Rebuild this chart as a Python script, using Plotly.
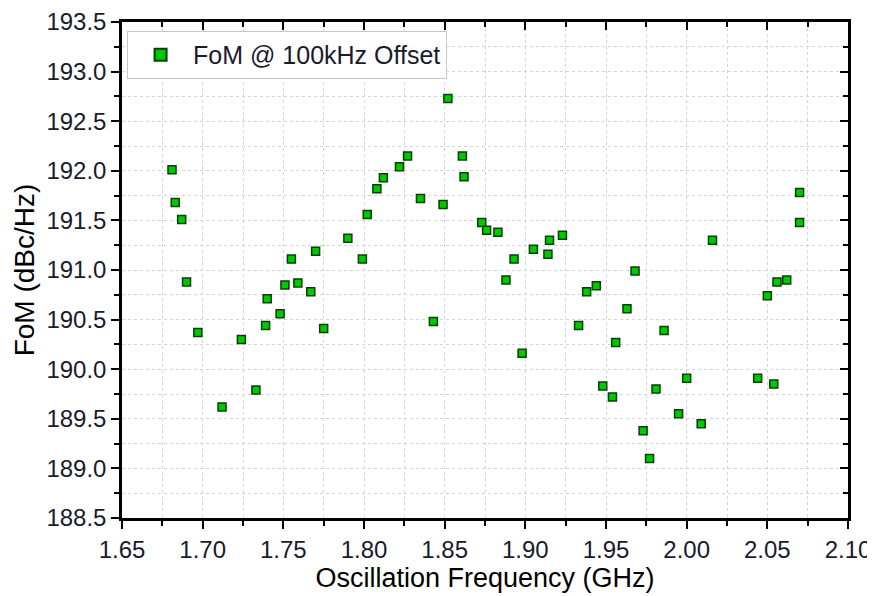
import plotly.graph_objects as go

freq_ghz = [1.681, 1.683, 1.687, 1.690, 1.697, 1.712, 1.724, 1.733, 1.739, 1.740,
            1.748, 1.751, 1.755, 1.759, 1.767, 1.770, 1.775, 1.790, 1.799, 1.802,
            1.808, 1.812, 1.822, 1.827, 1.835, 1.843, 1.849, 1.852, 1.861, 1.862,
            1.873, 1.876, 1.883, 1.888, 1.893, 1.898, 1.905, 1.914, 1.915, 1.923,
            1.933, 1.938, 1.944, 1.948, 1.954, 1.956, 1.963, 1.968, 1.973, 1.977,
            1.981, 1.986, 1.995, 2.000, 2.009, 2.016, 2.044, 2.050, 2.054, 2.056,
            2.062, 2.070, 2.070]
fom_dbc = [192.01, 191.68, 191.51, 190.88, 190.37, 189.62, 190.30, 189.79, 190.44, 190.71,
           190.56, 190.85, 191.11, 190.87, 190.78, 191.19, 190.41, 191.32, 191.11, 191.56,
           191.82, 191.93, 192.04, 192.15, 191.72, 190.48, 191.66, 192.73, 192.15, 191.94,
           191.48, 191.40, 191.38, 190.90, 191.11, 190.16, 191.21, 191.16, 191.30, 191.35,
           190.44, 190.78, 190.84, 189.83, 189.72, 190.27, 190.61, 190.99, 189.38, 189.10,
           189.80, 190.39, 189.55, 189.91, 189.45, 191.30, 189.91, 190.74, 189.85, 190.88,
           190.90, 191.78, 191.48]

x_ticks = [1.65, 1.70, 1.75, 1.80, 1.85, 1.90, 1.95, 2.00, 2.05, 2.10]
y_ticks = [188.5, 189.0, 189.5, 190.0, 190.5, 191.0, 191.5, 192.0, 192.5, 193.0, 193.5]
series_name = "FoM @ 100kHz Offset"

FONT = "Liberation Sans, Arial, sans-serif"
TXT = "#1a1a2e"

fig = go.Figure()
fig.add_trace(go.Scatter(
    x=freq_ghz, y=fom_dbc, mode="markers", name=series_name,
    marker=dict(symbol="square", size=8, color="#00c800",
                line=dict(color="#064006", width=1.5)),
))
# helper trace for inside ticks on top / right axes
fig.add_trace(go.Scatter(
    x=freq_ghz[:1], y=fom_dbc[:1], xaxis="x2", yaxis="y2", mode="markers",
    marker=dict(opacity=0), showlegend=False, hoverinfo="skip",
))

grid = dict(showgrid=True, gridcolor="#d4d4d4", griddash="dot", gridwidth=1)

# page body has an 8px margin, so the figure is sized/offset accordingly
fig.update_layout(
    width=867, height=588,
    margin=dict(l=114, r=27, t=14, b=78, autoexpand=False),
    paper_bgcolor="white", plot_bgcolor="white",
    font=dict(family=FONT, color=TXT, size=20),
    showlegend=True,
    legend=dict(x=0.007, y=0.982, xanchor="left", yanchor="top",
                bgcolor="white", bordercolor="#c8c8c8", borderwidth=1,
                font=dict(size=25, family=FONT, color=TXT),
                itemsizing="constant", itemwidth=55),
    xaxis=dict(
        range=[1.65, 2.10], tickvals=x_ticks, ticktext=[f"{v:.2f}" for v in x_ticks],
        ticks="outside", ticklen=8, tickwidth=2, tickcolor="black",
        showline=True, linecolor="black", linewidth=2.5, mirror=True,
        zeroline=False, automargin=False,
        tickfont=dict(size=24, family=FONT, color=TXT),
        title=dict(text="Oscillation Frequency (GHz)", standoff=0,
                   font=dict(size=27, family=FONT, color="black")),
        minor=dict(dtick=0.025, ticks="outside", ticklen=5, tickwidth=2,
                   tickcolor="black", showgrid=True, gridcolor="#d4d4d4", griddash="dot"),
        **grid,
    ),
    yaxis=dict(
        range=[188.5, 193.5], tickvals=y_ticks, ticktext=[f"{v:.1f}" for v in y_ticks],
        ticks="outside", ticklen=8, tickwidth=2, tickcolor="black",
        showline=True, linecolor="black", linewidth=2.5, mirror=True,
        zeroline=False, automargin=False,
        tickfont=dict(size=24, family=FONT, color=TXT),
        title=dict(text="FoM (dBc/Hz)", standoff=4,
                   font=dict(size=28, family=FONT, color="black")),
        minor=dict(dtick=0.25, ticks="outside", ticklen=5, tickwidth=2,
                   tickcolor="black", showgrid=True, gridcolor="#d4d4d4", griddash="dot"),
        **grid,
    ),
    xaxis2=dict(
        range=[1.65, 2.10], overlaying="x", side="top", tickvals=x_ticks,
        ticks="inside", ticklen=8, tickwidth=2, tickcolor="black", automargin=False,
        showticklabels=False, showgrid=False, showline=False, zeroline=False,
        minor=dict(dtick=0.025, ticks="inside", ticklen=5, tickwidth=2, tickcolor="black"),
    ),
    yaxis2=dict(
        range=[188.5, 193.5], overlaying="y", side="right", tickvals=y_ticks,
        ticks="inside", ticklen=8, tickwidth=2, tickcolor="black", automargin=False,
        showticklabels=False, showgrid=False, showline=False, zeroline=False,
        minor=dict(dtick=0.25, ticks="inside", ticklen=5, tickwidth=2, tickcolor="black"),
    ),
)

fig.write_html("out.html")
